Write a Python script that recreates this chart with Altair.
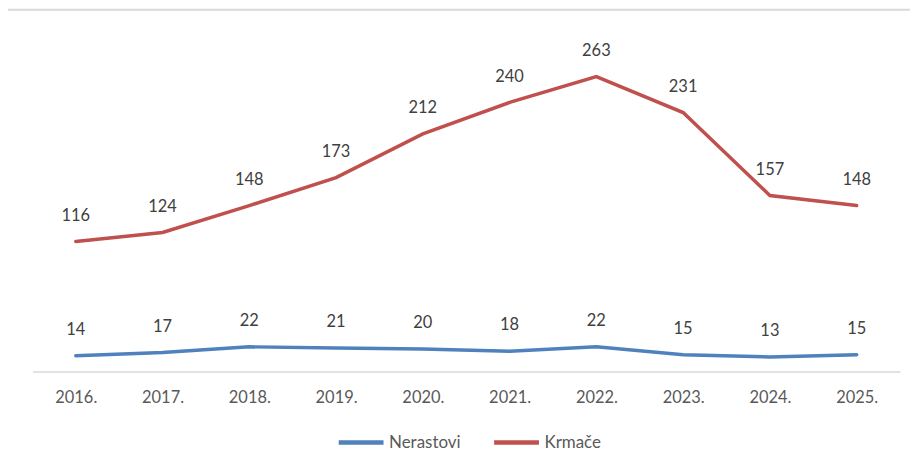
import altair as alt
import pandas as pd

years = ["2016.", "2017.", "2018.", "2019.", "2020.", "2021.", "2022.", "2023.", "2024.", "2025."]
nerastovi = [14, 17, 22, 21, 20, 18, 22, 15, 13, 15]
krmace = [116, 124, 148, 173, 212, 240, 263, 231, 157, 148]
series = ["Nerastovi", "Krmače"]
colors = ["#4F81BD", "#C0504D"]

rows = []
for y, n, k in zip(years, nerastovi, krmace):
    rows.append({"year": y, "series": series[0], "value": n})
    rows.append({"year": y, "series": series[1], "value": k})
df = pd.DataFrame(rows)

FONT = "Lato"

x = alt.X("year:N", sort=years, title=None,
          scale=alt.Scale(paddingInner=0, paddingOuter=0.5),
          axis=alt.Axis(labelAngle=0, ticks=False, grid=False, domainColor="#D9D9D9",
                        domainWidth=1.5, labelFontSize=16.5, labelColor="#595959",
                        labelFont=FONT, labelPadding=18))
y = alt.Y("value:Q", title=None, scale=alt.Scale(domain=[0, 300], nice=False), axis=None)
color = alt.Color("series:N", sort=series, title=None,
                  scale=alt.Scale(domain=series, range=colors),
                  legend=alt.Legend(orient="none", legendX=305, legendY=384, direction="horizontal",
                                    symbolType="stroke", symbolSize=2025, symbolStrokeWidth=4.5,
                                    labelFontSize=17, labelColor="#595959", labelFont=FONT,
                                    labelOffset=3, columnPadding=24, padding=0))

base = alt.Chart(df)
lines = base.mark_line(strokeWidth=3.5, strokeCap="round", strokeJoin="miter").encode(
    x=x, y=y, color=color)
labels = base.mark_text(dy=-26, fontSize=16.5, color="#404040", font=FONT).encode(
    x=alt.X("year:N", sort=years), y="value:Q", text="value:Q")
border = alt.Chart(pd.DataFrame({"a": [0]})).mark_rule(color="#D9D9D9", strokeWidth=2).encode(
    x=alt.value(-25), x2=alt.value(900), y=alt.value(-25.5))

chart = alt.layer(border, lines, labels).properties(
    width=871, height=337.6,
    autosize=alt.AutoSizeParams(type="none"),
    padding={"left": 24.5, "top": 26.4, "right": 10, "bottom": 95},
).configure_view(stroke=None)

chart.save("out.html", embed_options={"renderer": "svg", "actions": False})
